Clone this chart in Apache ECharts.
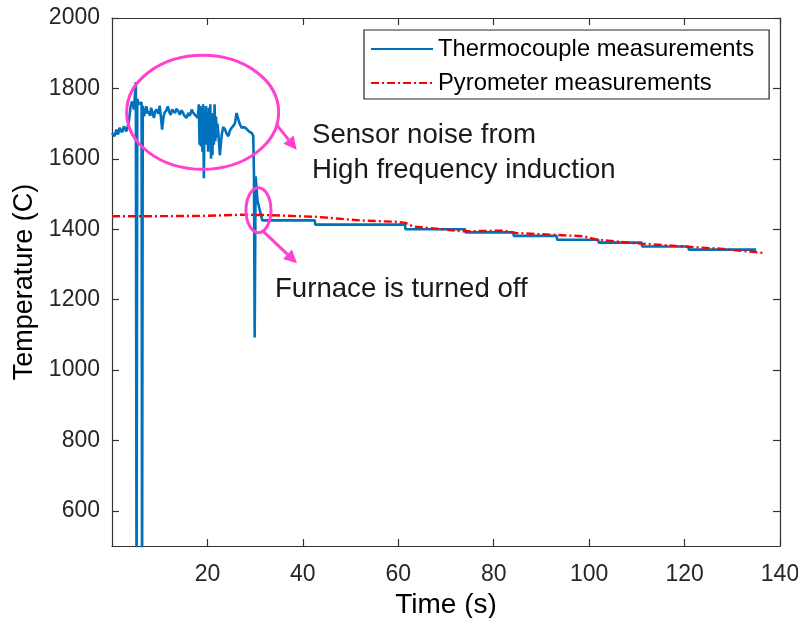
<!DOCTYPE html>
<html>
<head>
<meta charset="utf-8">
<script src="https://cdn.jsdelivr.net/npm/echarts@6/dist/echarts.min.js"></script>
<style>
  html, body { margin: 0; padding: 0; background: #ffffff; }
  #chart { width: 798px; height: 618px; }
</style>
</head>
<body>
<div id="chart"></div>
<script>
// Thermocouple readings: time (s) and temperature (C)
const tcTime = [
  0, 0.55, 0.9, 1.26, 1.6, 2.1, 2.5, 3.0, 3.5, 3.9, 4.2, 4.6, 5.0, 5.15, 5.3, 5.6, 6.2, 6.3, 6.45,
  6.7, 7.0, 7.2, 7.5, 7.7, 8.0, 8.2, 8.5, 8.8, 9.0, 9.3, 9.7, 10.0, 10.3, 10.5, 10.8, 11.0, 11.4,
  11.7, 12.0, 12.3, 12.6, 12.9, 13.2, 13.5, 13.9, 14.2, 14.6, 14.9, 15.2, 15.6, 16.0, 16.3, 16.7,
  17.0, 17.4, 17.7, 18.0,
  18.2, 18.35, 18.5, 18.65, 18.8, 18.95, 19.1, 19.25, 19.4, 19.55, 19.7, 19.85, 20.0, 20.15,
  20.3, 20.45, 20.6, 20.75, 20.9, 21.05, 21.2, 21.35, 21.5, 21.65, 21.8, 21.95, 22.1, 22.3,
  22.6, 23.0, 23.3, 23.7, 24.0, 24.4, 24.7, 25.1, 25.5, 25.8, 26.1, 26.5, 26.8, 27.2, 27.7, 28.2,
  28.7, 29.3, 29.6, 29.75, 29.9, 30.1, 30.5, 31.5,
  42.5, 42.6, 61.4, 61.5, 74.0, 74.1, 84.1, 84.2, 93.2, 93.3, 101.9, 102.0, 111.0, 111.1,
  120.8, 120.9, 135.0
];
const tcTemp = [
  1673, 1664, 1683, 1669, 1688, 1675, 1692, 1678, 1702, 1749, 1763, 1740, 1818, 300, 1770, 1755, 1760, 300, 1750,
  1721, 1738, 1749, 1728, 1735, 1722, 1745, 1730, 1716, 1733, 1740, 1728, 1751, 1712, 1683, 1720, 1730, 1738,
  1749, 1733, 1725, 1740, 1745, 1730, 1742, 1735, 1725, 1738, 1730, 1722, 1716, 1730, 1722, 1740,
  1731, 1725, 1720, 1716,
  1755, 1640, 1750, 1635, 1745, 1620, 1755, 1545, 1740, 1640, 1750, 1650, 1700, 1620,
  1745, 1660, 1755, 1600, 1720, 1610, 1730, 1640, 1755, 1650, 1720, 1660, 1700, 1670,
  1610, 1669, 1690, 1683, 1672, 1664, 1680, 1688, 1695, 1702, 1730, 1711, 1698, 1688, 1690, 1685,
  1678, 1673, 1665, 1560, 1092, 1550, 1480, 1425,
  1425, 1413, 1413, 1400, 1400, 1391, 1391, 1381, 1381, 1370, 1370, 1362, 1362, 1351,
  1351, 1342, 1342
];

// Pyrometer readings: time (s) and temperature (C)
const pyTime = [0, 10, 20, 27, 33, 42.9, 52, 59.5, 61.5, 63, 73.6, 82, 84.8, 98.8, 101.6, 110.7, 119.7, 128.1, 136.9];
const pyTemp = [1437, 1437, 1438, 1441, 1440, 1435, 1425, 1421, 1418, 1408, 1394, 1396, 1389, 1380, 1370, 1359, 1351, 1344, 1332];

// Tick labels
const xTicks = [20, 40, 60, 80, 100, 120, 140];
const yTicks = [600, 800, 1000, 1200, 1400, 1600, 1800, 2000];

const seriesNames = ['Thermocouple measurements', 'Pyrometer measurements'];
const notes = ['Sensor noise from', 'High frequency induction', 'Furnace is turned off'];

const tcData = tcTime.map((t, i) => [t, tcTemp[i]]);
const pyData = pyTime.map((t, i) => [t, pyTemp[i]]);

const FONT = '"Liberation Sans", Arial, sans-serif';
const AXIS_COLOR = '#333333';
const TEXT_COLOR = '#262626';
const MAGENTA = '#ff40d0';

const chart = echarts.init(document.getElementById('chart'), null, { renderer: 'canvas' });

function boxAxis(extra) {
  return Object.assign({
    type: 'value',
    axisLine: { show: true, onZero: false, lineStyle: { color: AXIS_COLOR, width: 1.2 } },
    axisTick: { show: true, inside: true, length: 7, lineStyle: { color: AXIS_COLOR, width: 1.2 } },
    splitLine: { show: false },
    axisLabel: { show: false }
  }, extra);
}

const plain = v => String(v);

const option = {
  animation: false,
  backgroundColor: '#ffffff',
  textStyle: { fontFamily: FONT },
  grid: { left: 112, right: 18, top: 18, bottom: 72, containLabel: false, outerBoundsMode: 'none' },
  legend: {
    orient: 'vertical',
    left: 364,
    top: 30,
    padding: [7, 15, 4, 6],
    itemWidth: 62,
    itemHeight: 14,
    itemGap: 10,
    backgroundColor: '#ffffff',
    borderColor: '#262626',
    borderWidth: 1.2,
    borderRadius: 0,
    itemStyle: { opacity: 0 },
    textStyle: { fontFamily: FONT, fontSize: 23.8, color: '#000000', lineHeight: 24 },
    data: seriesNames
  },
  xAxis: [
    boxAxis({
      min: 0, max: 140, interval: 20, position: 'bottom',
      axisTick: { show: true, inside: true, length: 7, customValues: xTicks, lineStyle: { color: AXIS_COLOR, width: 1.2 } },
      axisLabel: { show: true, customValues: xTicks, formatter: plain, fontSize: 23, color: TEXT_COLOR, fontFamily: FONT, margin: 17 },
      name: 'Time (s)', nameLocation: 'middle', nameGap: 45,
      nameTextStyle: { fontSize: 28, color: '#000000', fontFamily: FONT }
    }),
    boxAxis({
      min: 0, max: 140, interval: 20, position: 'top',
      axisTick: { show: true, inside: true, length: 7, customValues: xTicks, lineStyle: { color: AXIS_COLOR, width: 1.2 } }
    })
  ],
  yAxis: [
    boxAxis({
      min: 500, max: 2000, interval: 100, position: 'left',
      axisTick: { show: true, inside: true, length: 7, customValues: yTicks, lineStyle: { color: AXIS_COLOR, width: 1.2 } },
      axisLabel: { show: true, customValues: yTicks, formatter: plain, fontSize: 23, color: TEXT_COLOR, fontFamily: FONT, margin: 12 },
      name: 'Temperature (C)', nameLocation: 'middle', nameGap: 59,
      nameTextStyle: { fontSize: 27, color: '#000000', fontFamily: FONT }
    }),
    boxAxis({
      min: 500, max: 2000, interval: 100, position: 'right',
      axisTick: { show: true, inside: true, length: 7, customValues: yTicks, lineStyle: { color: AXIS_COLOR, width: 1.2 } }
    })
  ],
  series: [
    {
      name: seriesNames[0],
      type: 'line',
      xAxisIndex: 0, yAxisIndex: 0,
      data: tcData,
      symbol: 'none',
      clip: true,
      lineStyle: { color: '#0072bd', width: 2.6 },
      itemStyle: { color: '#0072bd' },
      z: 2
    },
    {
      name: seriesNames[1],
      type: 'line',
      xAxisIndex: 0, yAxisIndex: 0,
      data: pyData,
      symbol: 'none',
      clip: true,
      lineStyle: { color: '#ff0000', width: 2.4, type: [8, 3, 2, 3] },
      itemStyle: { color: '#ff0000' },
      z: 3
    }
  ]
};

chart.setOption(option);

// Annotations: ellipses with arrows, anchored to data positions
function px(t, v) { return chart.convertToPixel({ xAxisIndex: 0, yAxisIndex: 0 }, [t, v]); }

function arrow(x1, y1, x2, y2) {
  const ang = Math.atan2(y2 - y1, x2 - x1);
  const len = 13, half = 6.5;
  const bx = x2 - len * Math.cos(ang), by = y2 - len * Math.sin(ang);
  const nx = -Math.sin(ang), ny = Math.cos(ang);
  return [
    { type: 'line', shape: { x1: x1, y1: y1, x2: bx, y2: by }, style: { stroke: MAGENTA, lineWidth: 3 }, z: 100 },
    { type: 'polygon', shape: { points: [[x2, y2], [bx + nx * half, by + ny * half], [bx - nx * half, by - ny * half]] },
      style: { fill: MAGENTA }, z: 100 }
  ];
}

const big = px(19.0, 1732);
const small = px(30.7, 1454);
const graphics = [
  { type: 'ellipse', shape: { cx: big[0], cy: big[1], rx: 76, ry: 57 }, style: { fill: 'none', stroke: MAGENTA, lineWidth: 3 }, z: 100 },
  { type: 'ellipse', shape: { cx: small[0], cy: small[1], rx: 12.5, ry: 22.5 }, style: { fill: 'none', stroke: MAGENTA, lineWidth: 3 }, z: 100 }
]
  .concat(arrow(big[0] + 74, big[1] + 12.5, big[0] + 94, big[1] + 37.5))
  .concat(arrow(small[0] + 5, small[1] + 21.5, small[0] + 38.5, small[1] + 53))
  .concat([
    { type: 'text', left: 312, top: 121, style: { text: notes[0], font: '27.6px ' + FONT, fill: '#1a1a1a' }, z: 100 },
    { type: 'text', left: 312, top: 156, style: { text: notes[1], font: '27.6px ' + FONT, fill: '#1a1a1a' }, z: 100 },
    { type: 'text', left: 275, top: 275, style: { text: notes[2], font: '27.6px ' + FONT, fill: '#1a1a1a' }, z: 100 }
  ]);

chart.setOption({ graphic: graphics });
</script>
</body>
</html>
